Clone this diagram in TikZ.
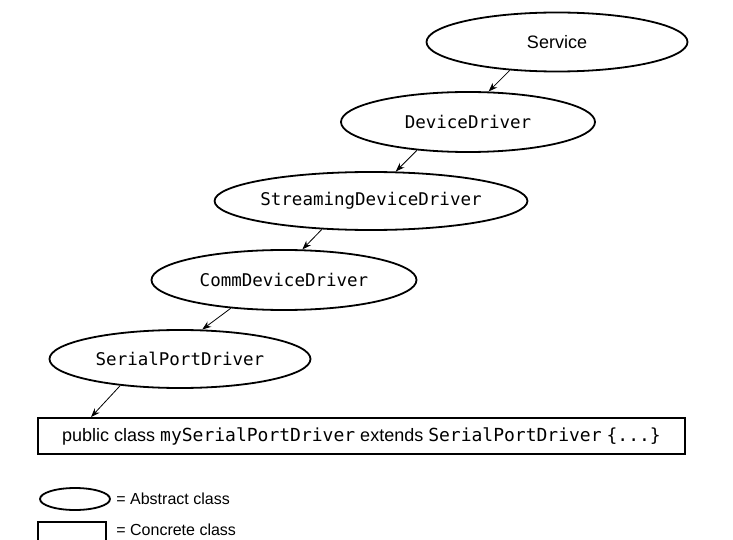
\documentclass[tikz,border=0pt]{standalone}
\usepackage{fontspec}
\setmainfont{Liberation Sans}
\newfontfamily\codefont{DejaVu Sans Mono}
\usepackage{tikz}
\usetikzlibrary{arrows.meta,shapes.geometric}
\tikzset{every picture/.style={line width=.8pt}}
\newcommand{\cls}[1]{{\codefont #1}}

\begin{document}
\begin{tikzpicture}[x=1pt,y=-1pt,
 every node/.style={font=\fontsize{18}{21}\selectfont},
 absclass/.style={draw,ellipse,line width=1.8pt,inner sep=0pt,
  minimum width=261pt,minimum height=59pt,
  font=\fontsize{17.5}{20}\selectfont\codefont},
 concclass/.style={draw,rectangle,line width=1.8pt,inner sep=0pt},
 inherit/.style={-{Stealth[length=9pt,width=6.5pt]}}]
 \useasboundingbox (0,0) rectangle (733,540);
 \fill[white] (0,0) rectangle (733,540);
 % class chain
 \node[absclass,font=\fontsize{18}{21}\selectfont] (service) at (557,42) {Service};
 \node[absclass,minimum width=254pt,minimum height=60pt] (devdrv) at (468,122) {DeviceDriver};
 \node[absclass,minimum width=263pt,minimum height=58pt] (streamdrv) at (371,201) {StreamingDeviceDriver};
 \node[absclass,minimum width=265pt,minimum height=60pt] (commdrv) at (284,280) {CommDeviceDriver};
 \node[absclass,minimum height=58pt] (serialdrv) at (180,359) {SerialPortDriver};
 \node[concclass,minimum width=647pt,minimum height=36pt] (mydrv) at (361.5,436)
  {public class \cls{mySerialPortDriver} extends \cls{SerialPortDriver} \cls{\{...\}}};
 \draw[inherit] (service.211) -- (devdrv.56);
 \draw[inherit] (devdrv.209) -- (streamdrv.50);
 \draw[inherit] (streamdrv.210) -- (commdrv.59);
 \draw[inherit] (commdrv.208) -- (serialdrv.53);
 \draw[inherit] (serialdrv.204) -- (mydrv.176.3);
 % key
 \node[draw,ellipse,line width=1.8pt,inner sep=0pt,minimum width=70pt,minimum height=22pt] (abskey) at (75,499) {};
 \node[anchor=west,inner sep=0pt,font=\fontsize{16}{18}\selectfont] (abstext) at (116,499) {= Abstract class};
 \node[concclass,minimum width=68pt,minimum height=34pt] (conckey) at (72,539) {};
 \node[anchor=west,inner sep=0pt,font=\fontsize{16}{18}\selectfont] (conctext) at (116,530) {= Concrete class};
\end{tikzpicture}
\end{document}
